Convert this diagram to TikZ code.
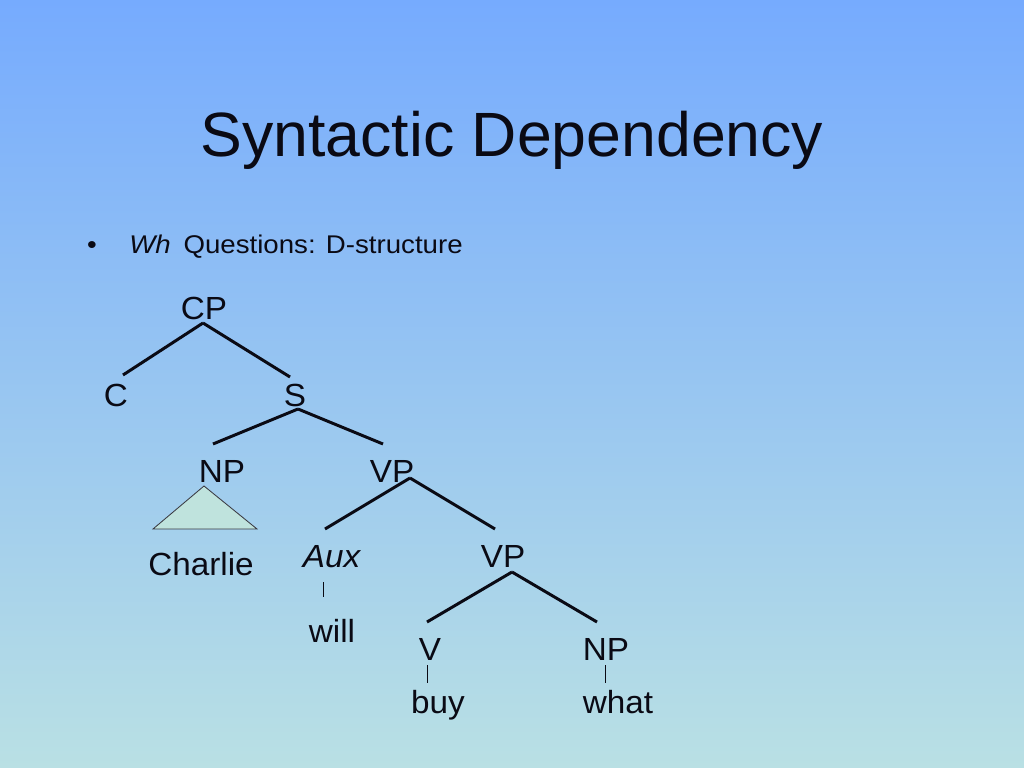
\documentclass[tikz,border=0pt]{standalone}
\usepackage{fontspec}
\setmainfont{Liberation Sans}
\newfontfamily\treefont{Liberation Sans}[FakeStretch=1.04]
\newfontfamily\bulletfont{Liberation Sans}[FakeStretch=1.08]
\definecolor{skytop}{HTML}{76ABFE}
\definecolor{skybot}{HTML}{B9E0E4}
\definecolor{wedge}{HTML}{BFE3DD}
\definecolor{ink}{HTML}{0A0A14}

\begin{document}
\begin{tikzpicture}[
  x=0.703125pt, y=-0.703125pt,
  every node/.append style={text=ink, inner sep=0pt},
  cat/.style={font=\treefont\fontsize{22.5}{26}\selectfont, anchor=base},
  branch/.style={draw=ink, line width=2.1pt},
  tick/.style={draw=ink, line width=0.6pt},
]
% --- slide background ---
\useasboundingbox (0,0) rectangle (1024,768);
\shade[top color=skytop, bottom color=skybot] (0,0) rectangle (1024,768);
% --- heading and bullet ---
\node[font=\fontsize{44}{50}\selectfont, anchor=base] (title) at (512,157) {Syntactic Dependency};
\node[font=\bulletfont\fontsize{18}{22}\selectfont, anchor=base] (dot) at (92,254) {\textbullet};
\node[font=\bulletfont\fontsize{18}{22}\selectfont, anchor=base west] (intro) at (129,254)
  {\textit{Wh}\hspace{9pt}Questions: D-structure};
% --- tree labels ---
\node[cat] (cp) at (204,319) {CP};
\node[cat] (c) at (116,406) {C};
\node[cat] (s) at (295,406) {S};
\node[cat] (np) at (222,482) {NP};
\node[cat] (vp) at (392,482) {VP};
\node[cat] (charlie) at (201,575) {Charlie};
\node[cat] (aux) at (332,567) {\textit{Aux}};
\node[cat] (vpb) at (503,567) {VP};
\node[cat] (will) at (332,642) {will};
\node[cat] (v) at (430,660) {V};
\node[cat] (npb) at (606,660) {NP};
\node[cat] (buy) at (438,713) {buy};
\node[cat] (what) at (618,713) {what};
% --- branches ---
\foreach \p/\c/\px/\py/\cx/\cy in {cp/c/-1/4/7/-31, cp/s/-1/4/-5/-29,
    s/np/3/3/-9/-38, s/vp/3/3/-9/-38, vp/aux/18/-4/-7/-38, vp/vpb/18/-4/-8/-38,
    vpb/v/9/5/-3/-38, vpb/npb/9/5/-9/-38}
  \draw[branch] ([shift={(\px,\py)}]\p.base) -- ([shift={(\cx,\cy)}]\c.base);
% --- word ticks ---
\draw[tick] ([shift={(-9,15)}]aux.base) -- ([shift={(-9,-45)}]will.base);
\draw[tick] ([shift={(-3,5)}]v.base) -- ([shift={(-11,-30)}]buy.base);
\draw[tick] ([shift={(-1,5)}]npb.base) -- ([shift={(-13,-30)}]what.base);
% --- NP triangle over Charlie ---
\draw[draw=ink!80, line width=0.6pt, fill=wedge] ([shift={(-18,4)}]np.base)
  -- ([shift={(-69,47)}]np.base) -- ([shift={(35,47)}]np.base) -- cycle;
\end{tikzpicture}
\end{document}
